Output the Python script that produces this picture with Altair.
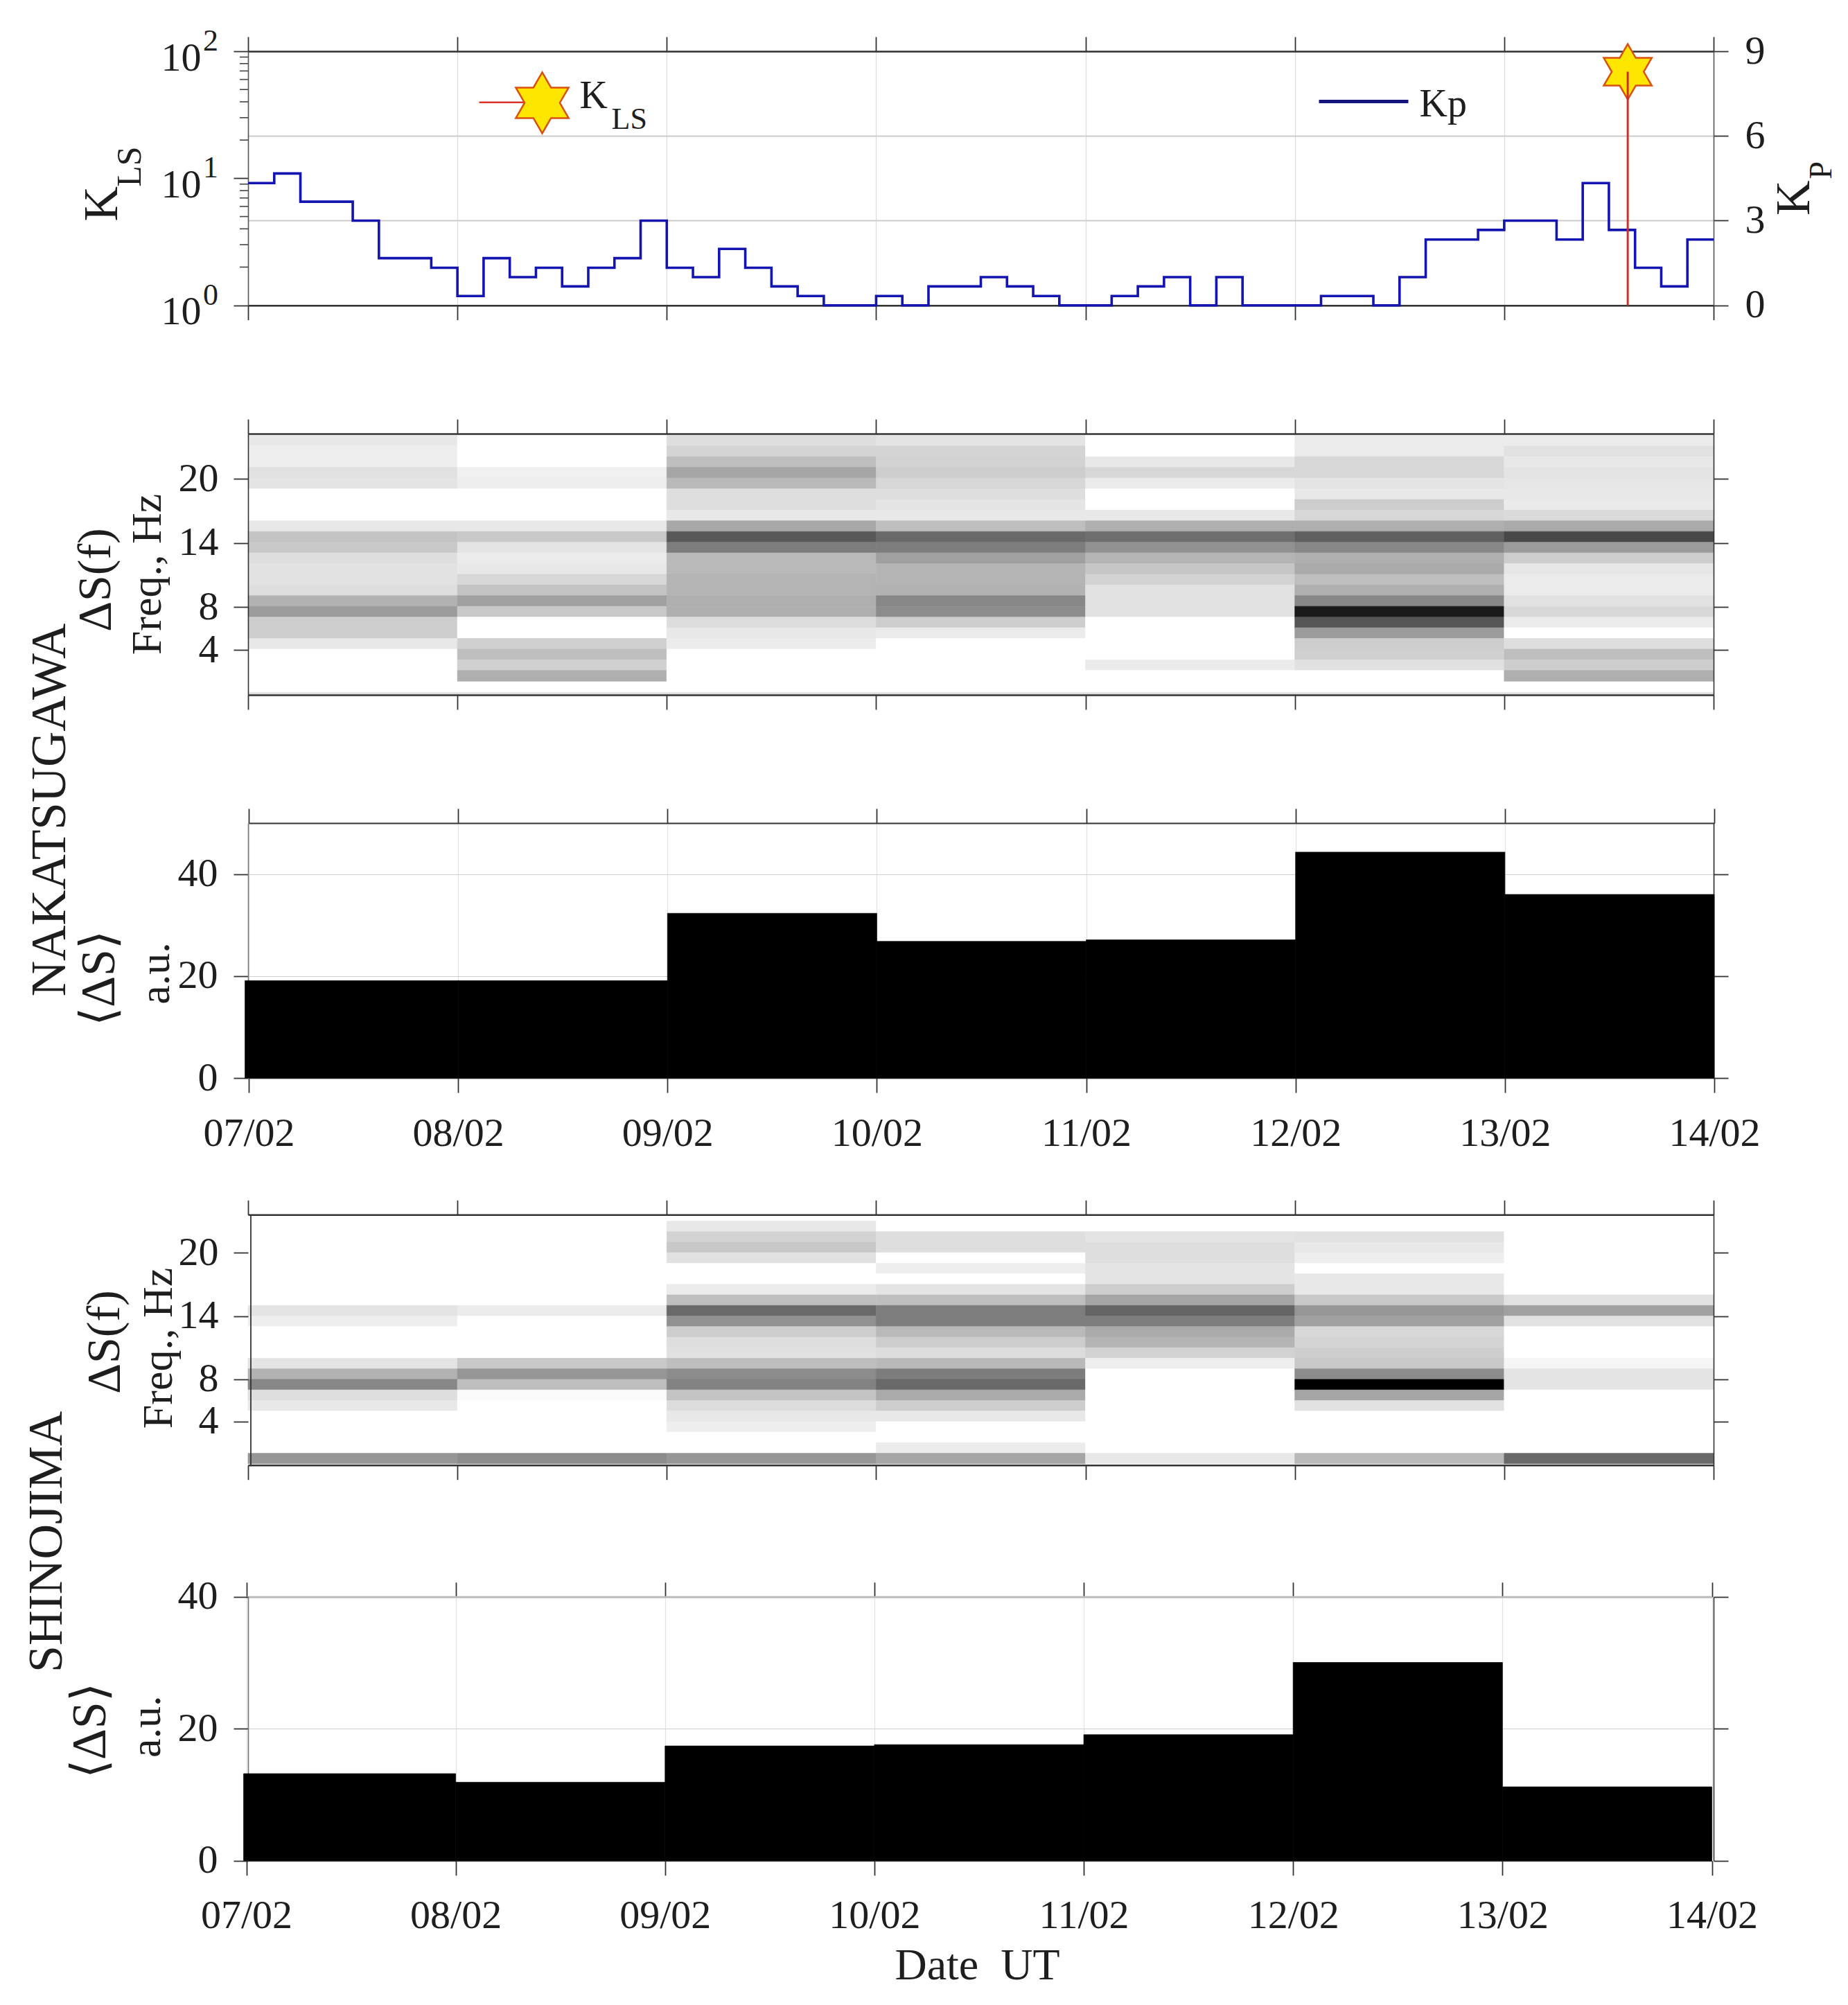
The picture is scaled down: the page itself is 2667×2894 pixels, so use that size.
import json
import altair as alt
import pandas as pd

FONT = "Liberation Serif"
INK = "#1e1e1e"
DATES = ["07/02", "08/02", "09/02", "10/02", "11/02", "12/02", "13/02", "14/02"]
DAYS = list(range(8))

KP = [4.33, 4.67, 3.67, 3.67, 3.0, 1.67, 1.67, 1.33,
      0.33, 1.67, 1.0, 1.33, 0.67, 1.33, 1.67, 3.0,
      1.33, 1.0, 2.0, 1.33, 0.67, 0.33, 0.0, 0.0,
      0.33, 0.0, 0.67, 0.67, 1.0, 0.67, 0.33, 0.0,
      0.0, 0.33, 0.67, 1.0, 0.0, 1.0, 0.0, 0.0,
      0.0, 0.33, 0.33, 0.0, 1.0, 2.33, 2.33, 2.67,
      3.0, 3.0, 2.33, 4.33, 2.67, 1.33, 0.67, 2.33]
KLS_DAY = [6.59]
KLS_VAL = [69]
KLS_MAJOR = [1, 10, 100]
KLS_EXP = ["0", "1", "2"]
KLS_MINOR = [2, 3, 4, 5, 6, 7, 8, 9, 20, 30, 40, 50, 60, 70, 80, 90]

# grey level of each 1 Hz band, top band first, one list per day
NAKA_GREY = [
    [232, 238, 238, 225, 228, 255, 255, 255, 232, 195, 200, 222, 226, 226, 222, 178, 155, 205, 205, 232, 255, 255, 255],
    [255, 255, 255, 240, 238, 255, 255, 255, 232, 200, 228, 235, 232, 215, 195, 160, 200, 255, 255, 208, 190, 208, 175],
    [222, 212, 190, 165, 185, 222, 222, 232, 168, 88, 125, 185, 185, 180, 180, 175, 175, 220, 232, 236, 255, 255, 255],
    [228, 212, 210, 205, 215, 222, 228, 232, 190, 105, 125, 160, 180, 180, 178, 135, 140, 205, 235, 255, 255, 255, 255],
    [255, 255, 232, 215, 235, 255, 255, 232, 175, 110, 145, 180, 198, 210, 225, 225, 225, 255, 255, 255, 255, 235, 255],
    [235, 235, 215, 215, 228, 232, 205, 215, 175, 95, 135, 175, 170, 190, 175, 135, 25, 85, 155, 205, 208, 225, 255],
    [235, 225, 232, 228, 230, 232, 235, 218, 170, 72, 155, 205, 230, 235, 235, 225, 215, 235, 255, 222, 190, 205, 175],
]
SHINO_GREY = [
    [255, 255, 255, 255, 255, 255, 255, 255, 228, 238, 255, 255, 255, 228, 178, 135, 222, 232, 255, 255, 255, 255, 150],
    [255, 255, 255, 255, 255, 255, 255, 255, 235, 255, 255, 255, 255, 200, 150, 190, 250, 255, 255, 255, 255, 255, 140],
    [232, 210, 200, 225, 255, 255, 235, 190, 105, 145, 205, 222, 225, 190, 140, 130, 195, 220, 232, 238, 255, 255, 150],
    [255, 222, 222, 255, 238, 255, 228, 190, 125, 125, 185, 205, 220, 185, 125, 105, 170, 205, 232, 255, 255, 235, 165],
    [255, 228, 222, 222, 228, 228, 205, 165, 100, 125, 170, 180, 210, 238, 255, 255, 255, 255, 255, 255, 255, 255, 232],
    [255, 225, 232, 238, 255, 232, 232, 200, 150, 160, 215, 212, 205, 200, 140, 0, 165, 225, 255, 255, 255, 255, 185],
    [255, 255, 255, 255, 255, 255, 255, 225, 160, 225, 255, 255, 255, 245, 228, 228, 255, 255, 255, 255, 255, 255, 105],
]
NAKA_MEAN = [19.1, 19.1, 32.3, 26.8, 27.1, 44.3, 36.0]
SHINO_MEAN = [13.2, 11.9, 17.4, 17.6, 19.1, 30.05, 11.2]
FREQ_TICKS = [4, 8, 14, 20]

X0 = 359.5
PLOT_W = 2115
GAP = 185
LABEL_EXPR = "%s[datum.value]" % json.dumps(DATES)


def ax(orient, values, labels=False, pad=23, tick=21, dom="#333333", dom_w=2.4,
       grid=False, grid_color="#dddddd", grid_w=1.2, offset=0, zindex=1,
       label_offset=0, expr=None, tick_color="#333333", domain=True):
    kw = dict(orient=orient, values=values, labels=labels, title=None, grid=grid,
              domain=domain, domainColor=dom, domainWidth=dom_w, ticks=True, tickSize=tick,
              tickColor=tick_color, tickWidth=1.8, offset=offset, zindex=zindex)
    if grid:
        kw.update(gridColor=grid_color, gridWidth=grid_w)
    if labels:
        kw.update(labelFont=FONT, labelFontSize=58, labelColor=INK, labelPadding=pad,
                  labelOverlap=False, labelFlush=False)
        if label_offset:
            kw["labelOffset"] = label_offset
        if expr:
            kw["labelExpr"] = expr
    return alt.Axis(**kw)


def note(text, px, py, oy, size, angle=0, align="center", color=INK):
    frame = pd.DataFrame({"label": [text]})
    return alt.Chart(frame).mark_text(
        font=FONT, fontSize=size, angle=angle, align=align, baseline="alphabetic", color=color
    ).encode(x=alt.value(px - X0), y=alt.value(py - oy), text="label:N")


def xscale(shift=0.0):
    return alt.Scale(domain=[0, 7], range=[shift, PLOT_W + shift], nice=False, zero=False)


def heat_frame(grey, top_band, shift):
    rows = []
    for d, col in enumerate(grey):
        for i, g in enumerate(col):
            low = top_band - i + shift
            rows.append(dict(d0=d, d1=d + 1, f0=low, f1=low + 1, grey=g))
    return pd.DataFrame(rows)


def heat_layers(grey, top_band, shift, yscale, x_scale, left_domain=True):
    df = heat_frame(grey, top_band, shift)
    gray = alt.Scale(domain=[0, 255], range=["#000000", "#ffffff"], interpolate="rgb")
    rect = alt.Chart(df).mark_rect(strokeWidth=0.7).encode(
        x=alt.X("d0:Q", scale=x_scale, axis=ax("bottom", DAYS)),
        x2="d1:Q",
        y=alt.Y("f0:Q", scale=yscale,
                axis=ax("left", FREQ_TICKS, labels=True, pad=22, dom_w=1.6, domain=left_domain)),
        y2="f1:Q",
        color=alt.Color("grey:Q", scale=gray, legend=None),
        stroke=alt.Stroke("grey:Q", scale=gray, legend=None),
    )
    return rect


def axes_twin(x_scale, yscale, y_vals, top_offset=0, dom="#333333", dom_w=2.4, zindex=1):
    df = pd.DataFrame({"d": [0], "v": [y_vals[0]]})
    return alt.Chart(df).mark_point(opacity=0).encode(
        x=alt.X("d:Q", scale=x_scale,
                axis=ax("top", DAYS, offset=top_offset, dom=dom, dom_w=dom_w, zindex=zindex)),
        y=alt.Y("v:Q", scale=yscale, axis=ax("right", y_vals, dom_w=1.6, zindex=zindex)),
    )


def mean_bars(means, first_edge, height, y_max, y_ticks, range_top, x_scale, top_offset=0, top_dom="#333333", top_w=2.0):
    edges = [first_edge] + list(range(1, 8))
    df = pd.DataFrame({"d0": edges[:-1], "d1": edges[1:], "base": [0] * 7, "mean": means})
    ys = alt.Scale(domain=[0, y_max], range=[height, range_top], nice=False, zero=False)
    bars = alt.Chart(df).mark_rect(color="#000000", stroke="#000000", strokeWidth=0.7).encode(
        x=alt.X("d0:Q", scale=x_scale,
                axis=ax("bottom", DAYS, labels=True, pad=30, grid=True, grid_color="#e2e2e2",
                        expr=LABEL_EXPR, dom_w=1.5, zindex=0)),
        x2="d1:Q",
        y=alt.Y("base:Q", scale=ys,
                axis=ax("left", y_ticks, labels=True, pad=23, grid=True, grid_color="#cfcfcf",
                        dom="#777777", dom_w=1.6, zindex=0)),
        y2="mean:Q",
    )
    return bars, axes_twin(x_scale, ys, y_ticks, top_offset, top_dom, top_w, zindex=0)


# ---------------- panel 1: KLS and Kp
Y1, H1 = 73.3, 366.7
x1 = xscale()
kls_scale = alt.Scale(type="log", domain=[1, 100], range=[H1, 0], nice=False)
kp_scale = alt.Scale(domain=[0, 9], range=[H1, 0], nice=False, zero=False)

kp_df = pd.DataFrame({"t": [i / 8 for i in range(len(KP) + 1)], "kp": KP + [KP[-1]]})
kls_df = pd.DataFrame({"day": KLS_DAY, "low": [1], "kls": KLS_VAL})
major_df = pd.DataFrame({"v": KLS_MAJOR, "e": KLS_EXP})
minor_df = pd.DataFrame({"v": KLS_MINOR})

HEX = "M0,-1L0.289,-0.5L0.866,-0.5L0.577,0L0.866,0.5L0.289,0.5L0,1L-0.289,0.5L-0.866,0.5L-0.577,0L-0.866,-0.5L-0.289,-0.5Z"
one = pd.DataFrame({"a": [0]})

base1 = alt.Chart(major_df).mark_text(
    font=FONT, fontSize=44, color=INK, dy=-14, align="center", baseline="middle"
).encode(
    x=alt.value(-54),
    y=alt.Y("v:Q", scale=kls_scale,
            axis=ax("left", KLS_MAJOR, labels=True, pad=47, dom="#555555", dom_w=1.6, label_offset=10,
                    expr="'10'", zindex=0)),
    text="e:N",
)
minor1 = alt.Chart(minor_df).mark_rule(color="#444444", strokeWidth=1.6).encode(
    x=alt.value(-12), x2=alt.value(0), y=alt.Y("v:Q", scale=kls_scale, axis=None))
xaxis1 = alt.Chart(kp_df).mark_point(opacity=0).encode(
    x=alt.X("t:Q", scale=x1, axis=ax("bottom", DAYS, grid=True, grid_color="#dcdcdc", zindex=0)),
    y=alt.Y("kp:Q", scale=kp_scale,
            axis=ax("right", [0, 3, 6, 9], labels=True, pad=24, grid=True, grid_color="#cccccc",
                    grid_w=1.8, dom="#555555", dom_w=1.6, zindex=0)),
)
top1 = alt.Chart(kp_df).mark_point(opacity=0).encode(
    x=alt.X("t:Q", scale=x1, axis=ax("top", DAYS, zindex=0)),
    y=alt.Y("kp:Q", scale=kp_scale, axis=None),
)
kp_line = alt.Chart(kp_df).mark_line(interpolate="step-after", color="#1414b0", strokeWidth=3.6).encode(
    x=alt.X("t:Q", scale=x1, axis=None), y=alt.Y("kp:Q", scale=kp_scale, axis=None))
star = alt.Chart(kls_df).mark_point(
    shape=HEX, size=6400, filled=True, fill="#ffe600", stroke="#d9500f", strokeWidth=2.5, opacity=1
).encode(x=alt.X("day:Q", scale=x1, axis=None), y=alt.Y("kls:Q", scale=kls_scale, axis=None))
kls_rule = alt.Chart(kls_df).mark_rule(color="#c9302a", strokeWidth=3).encode(
    x=alt.X("day:Q", scale=x1, axis=None), y=alt.Y("low:Q", scale=kls_scale, axis=None), y2="kls:Q")

leg_red = alt.Chart(one).mark_rule(color="#d9352e", strokeWidth=2.6).encode(
    x=alt.value(693 - X0), x2=alt.value(770 - X0), y=alt.value(147 - Y1))
leg_star = alt.Chart(one).mark_point(
    shape=HEX, size=7744, filled=True, fill="#ffe600", stroke="#d9500f", strokeWidth=2.5, opacity=1
).encode(x=alt.value(784 - X0), y=alt.value(147.7 - Y1))
leg_blue = alt.Chart(one).mark_rule(color="#14147a", strokeWidth=5).encode(
    x=alt.value(1905 - X0), x2=alt.value(2034 - X0), y=alt.value(145.7 - Y1))

panel1 = alt.layer(
    xaxis1, base1, minor1, top1, kp_line, star, kls_rule, leg_red, leg_star, leg_blue,
    note("K", 838, 155, Y1, 56, align="left"),
    note("LS", 884, 185, Y1, 44, align="left"),
    note("Kp", 2050, 167, Y1, 56, align="left"),
    note("K", 170, 293.5, Y1, 70, angle=270),
    note("LS", 204, 240, Y1, 50, angle=270),
    note("K", 2612, 285, Y1, 70, angle=270),
    note("P", 2644, 245, Y1, 46, angle=270),
).resolve_scale(y="independent").resolve_axis(x="independent", y="independent").properties(
    width=PLOT_W, height=H1)

# ---------------- panel 2: NAKATSUGAWA spectrogram
Y2, H2 = Y1 + H1 + GAP, 377.0
x2 = xscale()
y2s = alt.Scale(domain=[-0.21, 24.22], range=[H2, 0], nice=False, zero=False)
naka_floor = alt.Chart(pd.DataFrame({"f": [-0.08]})).mark_rule(color="#dddddd", strokeWidth=3.5).encode(
    x=alt.value(0), x2=alt.value(PLOT_W), y=alt.Y("f:Q", scale=y2s, axis=None))
panel2 = alt.layer(
    heat_layers(NAKA_GREY, 23, 0.07, y2s, x2),
    naka_floor,
    axes_twin(x2, y2s, FREQ_TICKS),
    note("\u0394S(f)", 160, 836, Y2, 68, angle=270),
    note("Freq., Hz", 233, 828, Y2, 62, angle=270),
).resolve_axis(x="independent", y="independent").properties(width=PLOT_W, height=H2)

# ---------------- panel 3: NAKATSUGAWA mean
Y3, H3 = Y2 + H2 + GAP, 368.0
x3 = xscale(1.0)
bars3, twin3 = mean_bars(NAKA_MEAN, -0.018, H3, 50, [0, 20, 40], 0, x3)
panel3 = alt.layer(
    bars3, twin3,
    note("\u27e8\u0394S\u27e9", 166, 1411, Y3, 70, angle=270),
    note("a.u.", 245, 1404, Y3, 62, angle=270),
    note("NAKATSUGAWA", 95, 1168, Y3, 71, angle=270),
).resolve_axis(x="independent", y="independent").properties(width=PLOT_W, height=H3)

# ---------------- panel 4: SHINOJIMA spectrogram
Y4 = Y3 + H3 + GAP
EXT4, H4 = 12.3, 373.7
x4 = xscale()
y4s = alt.Scale(domain=[-0.12, 23.6], range=[H4, EXT4], nice=False, zero=False)
left4 = alt.Chart(one).mark_rule(color="#333333", strokeWidth=1.8).encode(
    x=alt.value(4), y=alt.value(EXT4), y2=alt.value(H4))
panel4 = alt.layer(
    heat_layers(SHINO_GREY, 22, 0.0, y4s, x4, left_domain=False),
    left4,
    axes_twin(x4, y4s, FREQ_TICKS, top_offset=-EXT4),
    note("\u0394S(f)", 173, 1936, Y4, 68, angle=270),
    note("Freq., Hz", 249, 1945, Y4, 62, angle=270),
).resolve_axis(x="independent", y="independent").properties(width=PLOT_W, height=H4)

# ---------------- panel 5: SHINOJIMA mean
Y5 = Y4 + H4 + GAP
EXT5, H5 = 4.8, 385.8
x5 = xscale(-2.5)
bars5, twin5 = mean_bars(SHINO_MEAN, -0.013, H5, 40, [0, 20, 40], EXT5, x5, top_offset=-EXT5,
                         top_dom="#bbbbbb", top_w=3.0)
panel5 = alt.layer(
    bars5, twin5,
    note("\u27e8\u0394S\u27e9", 153, 2497, Y5, 70, angle=270),
    note("a.u.", 232, 2491, Y5, 62, angle=270),
    note("SHINOJIMA", 90, 2224, Y5, 70, angle=270),
    note("Date\u00a0\u00a0UT", 1412, 2856, Y5, 64),
).resolve_axis(x="independent", y="independent").properties(width=PLOT_W, height=H5)

chart = alt.vconcat(panel1, panel2, panel3, panel4, panel5, spacing=GAP, bounds="flush").configure_view(
    strokeWidth=0
).properties(
    padding={"left": 24, "top": 30, "right": 0, "bottom": 0}, background="#ffffff"
)

chart.save("out.html", embed_options={"renderer": "svg", "actions": False})
